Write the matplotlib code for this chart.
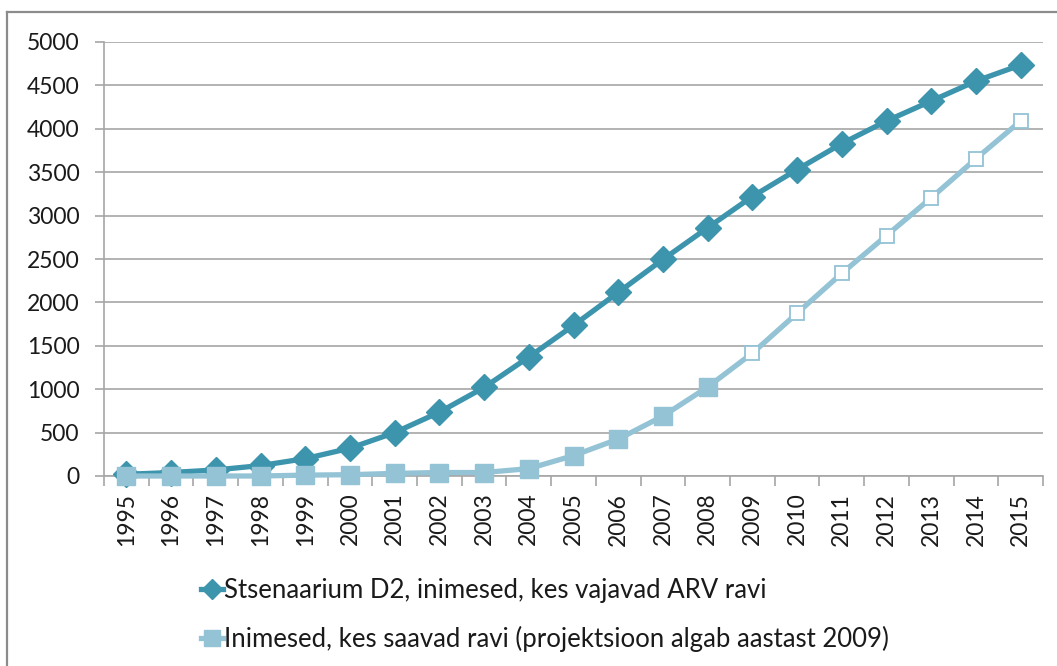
import matplotlib
matplotlib.use("Agg")
import matplotlib.pyplot as plt
from matplotlib.lines import Line2D
import numpy as np

# --- data -------------------------------------------------------------------
years = [str(y) for y in range(1995, 2016)]
need_arv = [20, 40, 70, 120, 200, 320, 500, 735, 1020, 1370, 1735, 2115,
            2495, 2860, 3220, 3530, 3830, 4090, 4320, 4550, 4735]
on_treatment = [0, 0, 0, 0, 10, 15, 30, 40, 40, 85, 235, 425,
                690, 1025, 1415, 1875, 2335, 2770, 3205, 3655, 4090]
projection_start = "2009"

label_need = "Stsenaarium D2, inimesed, kes vajavad ARV ravi"
label_treat = "Inimesed, kes saavad ravi (projektsioon algab aastast 2009)"

# --- style ------------------------------------------------------------------
DARK = "#3C94AD"
LIGHT = "#93C3D5"
GRID = "#A6A6A6"
TEXT = "#1a1a1a"
FONT = ["Lato", "DejaVu Sans"]
FS = 16.5
FS_LEG = 18.5
LW = 3.8

plt.rcParams["font.family"] = FONT

W, H = 1057, 666
fig = plt.figure(figsize=(W / 100, H / 100), dpi=100)
ax = fig.add_axes([104 / W, 1 - 476 / H, (1043 - 104) / W, (476 - 42) / H])

x = np.arange(len(years))
split = years.index(projection_start)

ax.plot(x, need_arv, "-", color=DARK, lw=LW, marker="D", ms=13,
        mfc=DARK, mec=DARK, zorder=3, solid_capstyle="round", clip_on=False)
ax.plot(x, on_treatment, "-", color=LIGHT, lw=LW, zorder=4,
        solid_capstyle="round", clip_on=False)
ax.plot(x[:split], on_treatment[:split], "s", ms=13.5, mfc=LIGHT, mec=LIGHT,
        zorder=4, clip_on=False)
ax.plot(x[split:], on_treatment[split:], "s", ms=10.5, mfc="white", mec=LIGHT,
        mew=1.3, zorder=4, clip_on=False)

ax.set_xlim(-0.5, len(years) - 0.5)
ax.set_ylim(0, 5000)
ax.set_yticks(np.arange(0, 5001, 500))
ax.yaxis.grid(True, color=GRID, lw=1.2)
ax.set_axisbelow(True)

ax.set_xticks(np.arange(-0.5, len(years), 1.0))
ax.set_xticklabels([])
ax.set_xticks(x, minor=True)
ax.set_xticklabels(years, minor=True, rotation=90, fontsize=FS, color=TEXT)
ax.tick_params(axis="x", which="major", length=7, color=GRID, width=1.2)
ax.tick_params(axis="x", which="minor", length=0, pad=12)
ax.tick_params(axis="y", length=6.5, color=GRID, width=1.2, pad=11,
               labelsize=FS, labelcolor=TEXT)

for s in ["top", "right"]:
    ax.spines[s].set_visible(False)
for s in ["left", "bottom"]:
    ax.spines[s].set_color(GRID)
    ax.spines[s].set_linewidth(1.2)

handles = [
    Line2D([], [], color=DARK, lw=LW, marker="D", ms=10, mfc=DARK, mec=DARK),
    Line2D([], [], color=LIGHT, lw=LW, marker="s", ms=11, mfc=LIGHT, mec=LIGHT),
]
fig.legend(handles, [label_need, label_treat], loc="upper left",
           bbox_to_anchor=(178 / W, 1 - 555 / H), frameon=False,
           fontsize=FS_LEG, handlelength=0.85, handletextpad=0.05,
           labelspacing=0.9, labelcolor=TEXT)

# outer chart border (cropped on the right and bottom)
fig.add_artist(Line2D([7 / W, 7 / W], [0, 1 - 12 / H], color="#8C8C8C",
                      lw=1.6, transform=fig.transFigure))
fig.add_artist(Line2D([7 / W, 1], [1 - 12 / H, 1 - 12 / H], color="#8C8C8C",
                      lw=1.6, transform=fig.transFigure))

fig.savefig("out.png", dpi=100, facecolor="white")
